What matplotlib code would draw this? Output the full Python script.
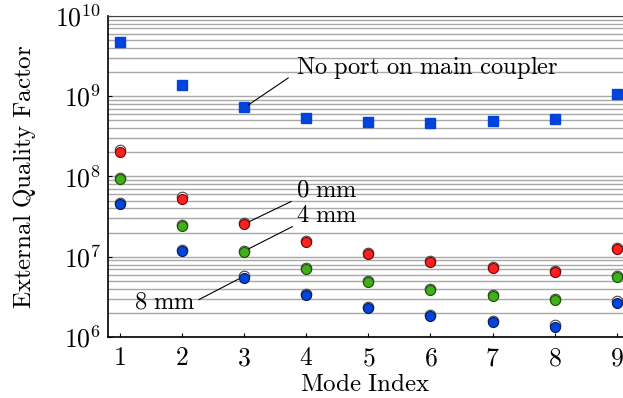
import numpy as np
import matplotlib
matplotlib.use("Agg")
import matplotlib.pyplot as plt
import matplotlib.transforms as mtransforms

plt.rcParams['mathtext.fontset'] = 'cm'
plt.rcParams['font.family'] = 'DejaVu Serif'

modes = [1, 2, 3, 4, 5, 6, 7, 8, 9]
q_noport = [4.8e9, 1.38e9, 7.35e8, 5.36e8, 4.73e8, 4.6e8, 4.87e8, 5.17e8, 1.06e9]
q_0mm = [2.04e8, 5.3e7, 2.56e7, 1.53e7, 1.07e7, 8.5e6, 7.2e6, 6.4e6, 1.25e7]
q_4mm = [9.3e7, 2.4e7, 1.13e7, 7.0e6, 4.8e6, 3.82e6, 3.24e6, 2.89e6, 5.6e6]
q_8mm = [4.5e7, 1.17e7, 5.5e6, 3.34e6, 2.28e6, 1.81e6, 1.54e6, 1.34e6, 2.67e6]

fig = plt.figure(figsize=(6.23, 3.98), dpi=100)
ax = fig.add_axes([0.1734, 0.1533, 0.8266, 0.8065])
ax.set_yscale('log')
ax.set_xlim(0.81, 9.1)
ax.set_ylim(1e6, 1e10)

ax.grid(True, which='both', axis='y', color='#a8a8a8', lw=1.0)
ax.set_axisbelow(True)

ax.plot(modes, q_noport, 's', ms=7.4, mfc='#0044dd', mec='#0044dd', zorder=3)

shift = mtransforms.offset_copy(ax.transData, fig=fig, x=0, y=1.3, units='dots')
for vals, fc, ec in [(q_0mm, '#ff1f1f', '#7a0000'),
                     (q_4mm, '#3db01a', '#1a5200'),
                     (q_8mm, '#0046dd', '#001a66')]:
    ax.plot(modes, vals, 'o', ms=7.6, mfc='white', mec='#444444', mew=0.8,
            transform=shift, zorder=3)
    ax.plot(modes, vals, 'o', ms=7.2, mfc=fc, mec=ec, mew=0.8, zorder=4)

fs_ann = 17.7
ax.annotate(r'$\mathrm{No\ port\ on\ main\ coupler}$', xy=(3.07, 7.8e8),
            xytext=(3.84, 2.31e9), fontsize=fs_ann, va='center', ha='left',
            arrowprops=dict(arrowstyle='-', lw=0.8, color='black',
                            shrinkA=0, shrinkB=0, relpos=(-0.03, 0.1)))
ax.annotate(r'$\mathrm{0\ mm}$', xy=(3.07, 2.71e7), xytext=(3.84, 6.8e7),
            fontsize=fs_ann, va='center', ha='left',
            arrowprops=dict(arrowstyle='-', lw=0.8, color='black',
                            shrinkA=0, shrinkB=0, relpos=(-0.08, 0.0)))
ax.annotate(r'$\mathrm{4\ mm}$', xy=(3.07, 1.25e7), xytext=(3.84, 3.31e7),
            fontsize=fs_ann, va='center', ha='left',
            arrowprops=dict(arrowstyle='-', lw=0.8, color='black',
                            shrinkA=0, shrinkB=0, relpos=(-0.06, 0.0)))
ax.annotate(r'$\mathrm{8\ mm}$', xy=(2.912, 5.28e6), xytext=(1.225, 2.73e6),
            fontsize=fs_ann, va='center', ha='left',
            arrowprops=dict(arrowstyle='-', lw=0.8, color='black',
                            shrinkA=0, shrinkB=0, relpos=(1.05, 0.6)))

ax.set_xticks(modes)
ax.set_xticklabels([r'$%d$' % m for m in modes])
ax.set_yticks([1e6, 1e7, 1e8, 1e9, 1e10])
ax.set_yticklabels([r'$10^{%d}$' % k for k in range(6, 11)])
ax.tick_params(axis='both', which='major', direction='in', length=3, labelsize=18.5)
ax.tick_params(axis='x', pad=6)
ax.tick_params(axis='y', pad=5)
ax.tick_params(axis='y', which='minor', length=0)
ax.set_xlabel(r'$\mathrm{Mode\ Index}$', fontsize=18, labelpad=2)
ax.set_ylabel(r'$\mathrm{External\ Quality\ Factor}$', fontsize=18, labelpad=12)

ax.spines['right'].set_visible(False)
ax.spines['top'].set_color('#444444')
ax.spines['left'].set_linewidth(1.2)
ax.spines['bottom'].set_linewidth(1.2)

fig.savefig('out.png', dpi=100)
